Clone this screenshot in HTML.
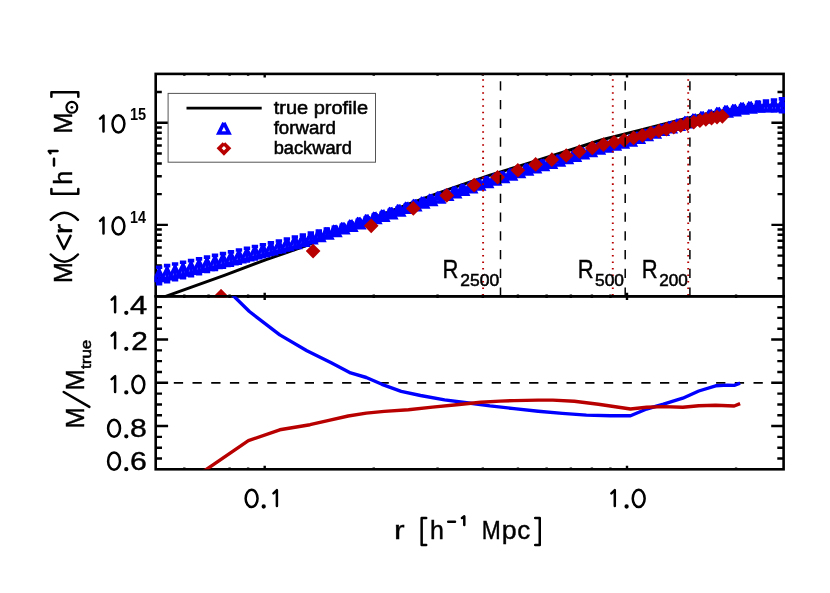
<!DOCTYPE html>
<html><head><meta charset="utf-8"><title>chart</title><style>html,body{margin:0;padding:0;background:#fff}body{width:830px;height:593px;overflow:hidden}</style></head><body>
<svg width="830" height="593" viewBox="0 0 830 593" style="display:block;will-change:transform">
<rect width="830" height="593" fill="#fff"/>
<defs><clipPath id="ct"><rect x="154.39999999999998" y="72.60000000000001" width="630.6000000000001" height="225.0"/></clipPath><clipPath id="cb"><rect x="155.7" y="296.3" width="627.9000000000001" height="173.0"/></clipPath></defs>
<path d="M264.70 73.9v3.6M627.00 73.9v3.6M184.32 73.9v1.8M208.58 73.9v1.8M229.59 73.9v1.8M248.12 73.9v1.8M373.76 73.9v1.8M437.56 73.9v1.8M482.83 73.9v1.8M517.94 73.9v1.8M546.62 73.9v1.8M570.88 73.9v1.8M591.89 73.9v1.8M610.42 73.9v1.8M736.06 73.9v1.8M264.70 296.3v-3.6M627.00 296.3v-3.6M184.32 296.3v-1.8M208.58 296.3v-1.8M229.59 296.3v-1.8M248.12 296.3v-1.8M373.76 296.3v-1.8M437.56 296.3v-1.8M482.83 296.3v-1.8M517.94 296.3v-1.8M546.62 296.3v-1.8M570.88 296.3v-1.8M591.89 296.3v-1.8M610.42 296.3v-1.8M736.06 296.3v-1.8M155.7 278.29h6.1M783.6 278.29h-6.1M155.7 265.53h6.1M783.6 265.53h-6.1M155.7 255.64h6.1M783.6 255.64h-6.1M155.7 247.55h6.1M783.6 247.55h-6.1M155.7 240.72h6.1M783.6 240.72h-6.1M155.7 234.79h6.1M783.6 234.79h-6.1M155.7 229.57h6.1M783.6 229.57h-6.1M155.7 224.90h12.2M783.6 224.90h-12.2M155.7 194.16h6.1M783.6 194.16h-6.1M155.7 176.19h6.1M783.6 176.19h-6.1M155.7 163.43h6.1M783.6 163.43h-6.1M155.7 153.54h6.1M783.6 153.54h-6.1M155.7 145.45h6.1M783.6 145.45h-6.1M155.7 138.62h6.1M783.6 138.62h-6.1M155.7 132.69h6.1M783.6 132.69h-6.1M155.7 127.47h6.1M783.6 127.47h-6.1M155.7 122.80h12.2M783.6 122.80h-12.2M155.7 92.06h6.1M783.6 92.06h-6.1" stroke="#000" stroke-width="2.4" fill="none"/>
<rect x="155.7" y="73.9" width="627.9000000000001" height="222.4" fill="none" stroke="#000" stroke-width="2.6"/>
<g clip-path="url(#ct)">
<polyline points="140.0,305.60 165.7,296.40 225.0,275.10 265.5,259.90 305.0,246.20 340.0,231.80 375.0,217.40 413.0,202.50 450.0,188.90 490.0,175.20 527.0,163.70 560.0,153.20 602.0,139.80 640.0,130.10 680.0,119.90 698.8,115.40 715.7,111.90 726.0,110.40 740.0,108.10 750.0,106.80 766.0,105.50 790.0,105.00" fill="none" stroke="#000" stroke-width="3"/>
<g fill="none" stroke="#0000ff" stroke-linejoin="miter" stroke-miterlimit="10"><path d="M159.10 267.30V283.70" stroke-width="3.4"/><path d="M155.90 267.30h6.4M155.90 283.70h6.4" stroke-width="3.6"/><path d="M159.10 270.40L154.00 280.60L164.20 280.60L159.10 270.40" stroke-width="3.5"/><path d="M167.09 265.62V281.69" stroke-width="3.4"/><path d="M163.89 265.62h6.4M163.89 281.69h6.4" stroke-width="3.6"/><path d="M167.09 268.55L161.99 278.75L172.19 278.75L167.09 268.55" stroke-width="3.5"/><path d="M175.07 263.94V279.67" stroke-width="3.4"/><path d="M171.87 263.94h6.4M171.87 279.67h6.4" stroke-width="3.6"/><path d="M175.07 266.71L169.97 276.91L180.17 276.91L175.07 266.71" stroke-width="3.5"/><path d="M183.06 262.26V277.66" stroke-width="3.4"/><path d="M179.86 262.26h6.4M179.86 277.66h6.4" stroke-width="3.6"/><path d="M183.06 264.86L177.96 275.06L188.16 275.06L183.06 264.86" stroke-width="3.5"/><path d="M191.04 260.58V275.65" stroke-width="3.4"/><path d="M187.84 260.58h6.4M187.84 275.65h6.4" stroke-width="3.6"/><path d="M191.04 263.02L185.94 273.22L196.14 273.22L191.04 263.02" stroke-width="3.5"/><path d="M199.03 258.86V273.60" stroke-width="3.4"/><path d="M195.83 258.86h6.4M195.83 273.60h6.4" stroke-width="3.6"/><path d="M199.03 261.13L193.93 271.33L204.12 271.33L199.03 261.13" stroke-width="3.5"/><path d="M207.01 257.11V271.51" stroke-width="3.4"/><path d="M203.81 257.11h6.4M203.81 271.51h6.4" stroke-width="3.6"/><path d="M207.01 259.21L201.91 269.41L212.11 269.41L207.01 259.21" stroke-width="3.5"/><path d="M215.00 255.35V269.41" stroke-width="3.4"/><path d="M211.80 255.35h6.4M211.80 269.41h6.4" stroke-width="3.6"/><path d="M215.00 257.28L209.90 267.48L220.09 267.48L215.00 257.28" stroke-width="3.5"/><path d="M222.98 253.59V267.32" stroke-width="3.4"/><path d="M219.78 253.59h6.4M219.78 267.32h6.4" stroke-width="3.6"/><path d="M222.98 255.36L217.88 265.56L228.08 265.56L222.98 255.36" stroke-width="3.5"/><path d="M230.97 251.83V265.23" stroke-width="3.4"/><path d="M227.77 251.83h6.4M227.77 265.23h6.4" stroke-width="3.6"/><path d="M230.97 253.43L225.87 263.63L236.06 263.63L230.97 253.43" stroke-width="3.5"/><path d="M238.95 250.05V263.10" stroke-width="3.4"/><path d="M235.75 250.05h6.4M235.75 263.10h6.4" stroke-width="3.6"/><path d="M238.95 251.48L233.85 261.68L244.05 261.68L238.95 251.48" stroke-width="3.5"/><path d="M246.94 248.27V260.96" stroke-width="3.4"/><path d="M243.74 248.27h6.4M243.74 260.96h6.4" stroke-width="3.6"/><path d="M246.94 249.52L241.84 259.72L252.03 259.72L246.94 249.52" stroke-width="3.5"/><path d="M254.92 246.49V258.83" stroke-width="3.4"/><path d="M251.72 246.49h6.4M251.72 258.83h6.4" stroke-width="3.6"/><path d="M254.92 247.56L249.82 257.76L260.02 257.76L254.92 247.56" stroke-width="3.5"/><path d="M262.90 244.71V256.69" stroke-width="3.4"/><path d="M259.70 244.71h6.4M259.70 256.69h6.4" stroke-width="3.6"/><path d="M262.90 245.60L257.80 255.80L268.00 255.80L262.90 245.60" stroke-width="3.5"/><path d="M270.89 242.86V254.48" stroke-width="3.4"/><path d="M267.69 242.86h6.4M267.69 254.48h6.4" stroke-width="3.6"/><path d="M270.89 243.57L265.79 253.77L275.99 253.77L270.89 243.57" stroke-width="3.5"/><path d="M278.88 240.93V252.20" stroke-width="3.4"/><path d="M275.68 240.93h6.4M275.68 252.20h6.4" stroke-width="3.6"/><path d="M278.88 241.47L273.77 251.67L283.98 251.67L278.88 241.47" stroke-width="3.5"/><path d="M286.86 239.00V249.91" stroke-width="3.4"/><path d="M283.66 239.00h6.4M283.66 249.91h6.4" stroke-width="3.6"/><path d="M286.86 239.36L281.76 249.56L291.96 249.56L286.86 239.36" stroke-width="3.5"/><path d="M294.85 237.07V247.63" stroke-width="3.4"/><path d="M291.65 237.07h6.4M291.65 247.63h6.4" stroke-width="3.6"/><path d="M294.85 237.25L289.75 247.45L299.95 247.45L294.85 237.25" stroke-width="3.5"/><path d="M302.83 235.14V245.34" stroke-width="3.4"/><path d="M299.63 235.14h6.4M299.63 245.34h6.4" stroke-width="3.6"/><path d="M302.83 235.14L297.73 245.34L307.93 245.34L302.83 235.14" stroke-width="3.5"/><path d="M310.81 233.14V242.40" stroke-width="3.4"/><path d="M307.62 233.14h6.4M307.62 242.40h6.4" stroke-width="3.6"/><path d="M310.81 232.67L305.71 242.87L315.92 242.87L310.81 232.67" stroke-width="3.5"/><path d="M318.80 231.12V239.45" stroke-width="3.4"/><path d="M315.60 231.12h6.4M315.60 239.45h6.4" stroke-width="3.6"/><path d="M318.80 230.18L313.70 240.38L323.90 240.38L318.80 230.18" stroke-width="3.5"/><path d="M326.78 229.10V236.50" stroke-width="3.4"/><path d="M323.58 229.10h6.4M323.58 236.50h6.4" stroke-width="3.6"/><path d="M326.78 227.70L321.68 237.90L331.88 237.90L326.78 227.70" stroke-width="3.5"/><path d="M334.77 227.22V233.42" stroke-width="3.4"/><path d="M331.57 227.22h6.4M331.57 233.42h6.4" stroke-width="3.6"/><path d="M334.77 225.22L329.67 235.42L339.87 235.42L334.77 225.22" stroke-width="3.5"/><path d="M342.75 225.27V230.27" stroke-width="3.4"/><path d="M339.56 225.27h6.4M339.56 230.27h6.4" stroke-width="3.6"/><path d="M342.75 222.67L337.65 232.87L347.86 232.87L342.75 222.67" stroke-width="3.5"/><path d="M350.74 222.95V227.35" stroke-width="3.4"/><path d="M347.54 222.95h6.4M347.54 227.35h6.4" stroke-width="3.6"/><path d="M350.74 220.05L345.64 230.25L355.84 230.25L350.74 220.05" stroke-width="3.5"/><path d="M358.73 220.33V224.73" stroke-width="3.4"/><path d="M355.53 220.33h6.4M355.53 224.73h6.4" stroke-width="3.6"/><path d="M358.73 217.43L353.62 227.63L363.83 227.63L358.73 217.43" stroke-width="3.5"/><path d="M366.71 217.72V222.12" stroke-width="3.4"/><path d="M363.51 217.72h6.4M363.51 222.12h6.4" stroke-width="3.6"/><path d="M366.71 214.82L361.61 225.02L371.81 225.02L366.71 214.82" stroke-width="3.5"/><path d="M374.69 215.10V219.50" stroke-width="3.4"/><path d="M371.50 215.10h6.4M371.50 219.50h6.4" stroke-width="3.6"/><path d="M374.69 212.20L369.59 222.40L379.80 222.40L374.69 212.20" stroke-width="3.5"/><path d="M382.68 212.97V217.37" stroke-width="3.4"/><path d="M379.48 212.97h6.4M379.48 217.37h6.4" stroke-width="3.6"/><path d="M382.68 210.07L377.58 220.27L387.78 220.27L382.68 210.07" stroke-width="3.5"/><path d="M390.66 210.33V214.73" stroke-width="3.4"/><path d="M387.46 210.33h6.4M387.46 214.73h6.4" stroke-width="3.6"/><path d="M390.66 207.43L385.56 217.63L395.76 217.63L390.66 207.43" stroke-width="3.5"/><path d="M398.65 207.70V212.10" stroke-width="3.4"/><path d="M395.45 207.70h6.4M395.45 212.10h6.4" stroke-width="3.6"/><path d="M398.65 204.80L393.55 215.00L403.75 215.00L398.65 204.80" stroke-width="3.5"/><path d="M406.63 205.06V209.46" stroke-width="3.4"/><path d="M403.44 205.06h6.4M403.44 209.46h6.4" stroke-width="3.6"/><path d="M406.63 202.16L401.53 212.36L411.74 212.36L406.63 202.16" stroke-width="3.5"/><path d="M414.62 202.42V206.82" stroke-width="3.4"/><path d="M411.42 202.42h6.4M411.42 206.82h6.4" stroke-width="3.6"/><path d="M414.62 199.52L409.52 209.72L419.72 209.72L414.62 199.52" stroke-width="3.5"/><path d="M422.61 199.81V204.21" stroke-width="3.4"/><path d="M419.41 199.81h6.4M419.41 204.21h6.4" stroke-width="3.6"/><path d="M422.61 196.91L417.50 207.11L427.71 207.11L422.61 196.91" stroke-width="3.5"/><path d="M430.59 197.23V201.63" stroke-width="3.4"/><path d="M427.39 197.23h6.4M427.39 201.63h6.4" stroke-width="3.6"/><path d="M430.59 194.33L425.49 204.53L435.69 204.53L430.59 194.33" stroke-width="3.5"/><path d="M438.58 194.65V199.05" stroke-width="3.4"/><path d="M435.38 194.65h6.4M435.38 199.05h6.4" stroke-width="3.6"/><path d="M438.58 191.75L433.48 201.95L443.68 201.95L438.58 191.75" stroke-width="3.5"/><path d="M446.56 192.07V196.47" stroke-width="3.4"/><path d="M443.36 192.07h6.4M443.36 196.47h6.4" stroke-width="3.6"/><path d="M446.56 189.17L441.46 199.37L451.66 199.37L446.56 189.17" stroke-width="3.5"/><path d="M454.54 189.49V193.89" stroke-width="3.4"/><path d="M451.34 189.49h6.4M451.34 193.89h6.4" stroke-width="3.6"/><path d="M454.54 186.59L449.44 196.79L459.64 196.79L454.54 186.59" stroke-width="3.5"/><path d="M462.53 186.93V191.33" stroke-width="3.4"/><path d="M459.33 186.93h6.4M459.33 191.33h6.4" stroke-width="3.6"/><path d="M462.53 184.03L457.43 194.23L467.63 194.23L462.53 184.03" stroke-width="3.5"/><path d="M470.51 184.36V188.76" stroke-width="3.4"/><path d="M467.31 184.36h6.4M467.31 188.76h6.4" stroke-width="3.6"/><path d="M470.51 181.46L465.41 191.66L475.62 191.66L470.51 181.46" stroke-width="3.5"/><path d="M478.50 181.80V186.20" stroke-width="3.4"/><path d="M475.30 181.80h6.4M475.30 186.20h6.4" stroke-width="3.6"/><path d="M478.50 178.90L473.40 189.10L483.60 189.10L478.50 178.90" stroke-width="3.5"/><path d="M486.49 179.23V183.63" stroke-width="3.4"/><path d="M483.29 179.23h6.4M483.29 183.63h6.4" stroke-width="3.6"/><path d="M486.49 176.33L481.38 186.53L491.59 186.53L486.49 176.33" stroke-width="3.5"/><path d="M494.47 176.70V181.10" stroke-width="3.4"/><path d="M491.27 176.70h6.4M491.27 181.10h6.4" stroke-width="3.6"/><path d="M494.47 173.80L489.37 184.00L499.57 184.00L494.47 173.80" stroke-width="3.5"/><path d="M502.46 174.20V178.60" stroke-width="3.4"/><path d="M499.26 174.20h6.4M499.26 178.60h6.4" stroke-width="3.6"/><path d="M502.46 171.30L497.36 181.50L507.56 181.50L502.46 171.30" stroke-width="3.5"/><path d="M510.44 171.69V176.09" stroke-width="3.4"/><path d="M507.24 171.69h6.4M507.24 176.09h6.4" stroke-width="3.6"/><path d="M510.44 168.79L505.34 178.99L515.54 178.99L510.44 168.79" stroke-width="3.5"/><path d="M518.42 169.19V173.59" stroke-width="3.4"/><path d="M515.22 169.19h6.4M515.22 173.59h6.4" stroke-width="3.6"/><path d="M518.42 166.29L513.32 176.49L523.52 176.49L518.42 166.29" stroke-width="3.5"/><path d="M526.41 166.68V171.08" stroke-width="3.4"/><path d="M523.21 166.68h6.4M523.21 171.08h6.4" stroke-width="3.6"/><path d="M526.41 163.78L521.31 173.98L531.51 173.98L526.41 163.78" stroke-width="3.5"/><path d="M534.39 164.41V168.81" stroke-width="3.4"/><path d="M531.19 164.41h6.4M531.19 168.81h6.4" stroke-width="3.6"/><path d="M534.39 161.51L529.29 171.71L539.50 171.71L534.39 161.51" stroke-width="3.5"/><path d="M542.38 162.15V166.55" stroke-width="3.4"/><path d="M539.18 162.15h6.4M539.18 166.55h6.4" stroke-width="3.6"/><path d="M542.38 159.25L537.28 169.45L547.48 169.45L542.38 159.25" stroke-width="3.5"/><path d="M550.37 159.89V164.29" stroke-width="3.4"/><path d="M547.16 159.89h6.4M547.16 164.29h6.4" stroke-width="3.6"/><path d="M550.37 156.99L545.26 167.19L555.47 167.19L550.37 156.99" stroke-width="3.5"/><path d="M558.35 157.63V162.03" stroke-width="3.4"/><path d="M555.15 157.63h6.4M555.15 162.03h6.4" stroke-width="3.6"/><path d="M558.35 154.73L553.25 164.93L563.45 164.93L558.35 154.73" stroke-width="3.5"/><path d="M566.34 155.30V159.70" stroke-width="3.4"/><path d="M563.13 155.30h6.4M563.13 159.70h6.4" stroke-width="3.6"/><path d="M566.34 152.40L561.24 162.60L571.44 162.60L566.34 152.40" stroke-width="3.5"/><path d="M574.32 152.90V157.30" stroke-width="3.4"/><path d="M571.12 152.90h6.4M571.12 157.30h6.4" stroke-width="3.6"/><path d="M574.32 150.00L569.22 160.20L579.42 160.20L574.32 150.00" stroke-width="3.5"/><path d="M582.31 150.51V154.91" stroke-width="3.4"/><path d="M579.11 150.51h6.4M579.11 154.91h6.4" stroke-width="3.6"/><path d="M582.31 147.61L577.21 157.81L587.41 157.81L582.31 147.61" stroke-width="3.5"/><path d="M590.29 148.11V152.51" stroke-width="3.4"/><path d="M587.09 148.11h6.4M587.09 152.51h6.4" stroke-width="3.6"/><path d="M590.29 145.21L585.19 155.41L595.39 155.41L590.29 145.21" stroke-width="3.5"/><path d="M598.27 145.73V150.13" stroke-width="3.4"/><path d="M595.07 145.73h6.4M595.07 150.13h6.4" stroke-width="3.6"/><path d="M598.27 142.83L593.17 153.03L603.38 153.03L598.27 142.83" stroke-width="3.5"/><path d="M606.26 143.76V148.16" stroke-width="3.4"/><path d="M603.06 143.76h6.4M603.06 148.16h6.4" stroke-width="3.6"/><path d="M606.26 140.86L601.16 151.06L611.36 151.06L606.26 140.86" stroke-width="3.5"/><path d="M614.25 141.79V146.19" stroke-width="3.4"/><path d="M611.04 141.79h6.4M611.04 146.19h6.4" stroke-width="3.6"/><path d="M614.25 138.89L609.14 149.09L619.35 149.09L614.25 138.89" stroke-width="3.5"/><path d="M622.23 139.82V144.22" stroke-width="3.4"/><path d="M619.03 139.82h6.4M619.03 144.22h6.4" stroke-width="3.6"/><path d="M622.23 136.92L617.13 147.12L627.33 147.12L622.23 136.92" stroke-width="3.5"/><path d="M630.22 137.82V142.22" stroke-width="3.4"/><path d="M627.01 137.82h6.4M627.01 142.22h6.4" stroke-width="3.6"/><path d="M630.22 134.92L625.12 145.12L635.32 145.12L630.22 134.92" stroke-width="3.5"/><path d="M638.20 134.99V139.39" stroke-width="3.4"/><path d="M635.00 134.99h6.4M635.00 139.39h6.4" stroke-width="3.6"/><path d="M638.20 132.09L633.10 142.29L643.30 142.29L638.20 132.09" stroke-width="3.5"/><path d="M646.19 132.15V136.55" stroke-width="3.4"/><path d="M642.99 132.15h6.4M642.99 136.55h6.4" stroke-width="3.6"/><path d="M646.19 129.25L641.09 139.45L651.29 139.45L646.19 129.25" stroke-width="3.5"/><path d="M654.17 129.58V133.98" stroke-width="3.4"/><path d="M650.97 129.58h6.4M650.97 133.98h6.4" stroke-width="3.6"/><path d="M654.17 126.68L649.07 136.88L659.27 136.88L654.17 126.68" stroke-width="3.5"/><path d="M662.15 127.03V131.43" stroke-width="3.4"/><path d="M658.95 127.03h6.4M658.95 131.43h6.4" stroke-width="3.6"/><path d="M662.15 124.13L657.05 134.33L667.25 134.33L662.15 124.13" stroke-width="3.5"/><path d="M670.14 124.43V128.83" stroke-width="3.4"/><path d="M666.94 124.43h6.4M666.94 128.83h6.4" stroke-width="3.6"/><path d="M670.14 121.53L665.04 131.73L675.24 131.73L670.14 121.53" stroke-width="3.5"/><path d="M678.12 121.83V126.23" stroke-width="3.4"/><path d="M674.92 121.83h6.4M674.92 126.23h6.4" stroke-width="3.6"/><path d="M678.12 118.93L673.02 129.13L683.23 129.13L678.12 118.93" stroke-width="3.5"/><path d="M686.11 119.33V123.73" stroke-width="3.4"/><path d="M682.91 119.33h6.4M682.91 123.73h6.4" stroke-width="3.6"/><path d="M686.11 116.43L681.01 126.63L691.21 126.63L686.11 116.43" stroke-width="3.5"/><path d="M694.10 116.98V121.38" stroke-width="3.4"/><path d="M690.89 116.98h6.4M690.89 121.38h6.4" stroke-width="3.6"/><path d="M694.10 114.08L689.00 124.28L699.20 124.28L694.10 114.08" stroke-width="3.5"/><path d="M702.08 114.73V119.13" stroke-width="3.4"/><path d="M698.88 114.73h6.4M698.88 119.13h6.4" stroke-width="3.6"/><path d="M702.08 111.83L696.98 122.03L707.18 122.03L702.08 111.83" stroke-width="3.5"/><path d="M710.07 112.60V117.00" stroke-width="3.4"/><path d="M706.87 112.60h6.4M706.87 117.00h6.4" stroke-width="3.6"/><path d="M710.07 109.70L704.97 119.90L715.17 119.90L710.07 109.70" stroke-width="3.5"/><path d="M718.05 110.55V114.95" stroke-width="3.4"/><path d="M714.85 110.55h6.4M714.85 114.95h6.4" stroke-width="3.6"/><path d="M718.05 107.65L712.95 117.85L723.15 117.85L718.05 107.65" stroke-width="3.5"/><path d="M726.04 108.69V113.09" stroke-width="3.4"/><path d="M722.84 108.69h6.4M722.84 113.09h6.4" stroke-width="3.6"/><path d="M726.04 105.79L720.94 115.99L731.14 115.99L726.04 105.79" stroke-width="3.5"/><path d="M734.02 107.50V111.90" stroke-width="3.4"/><path d="M730.82 107.50h6.4M730.82 111.90h6.4" stroke-width="3.6"/><path d="M734.02 104.60L728.92 114.80L739.12 114.80L734.02 104.60" stroke-width="3.5"/><path d="M742.00 105.80V110.20" stroke-width="3.4"/><path d="M738.80 105.80h6.4M738.80 110.20h6.4" stroke-width="3.6"/><path d="M742.00 102.90L736.90 113.10L747.11 113.10L742.00 102.90" stroke-width="3.5"/><path d="M749.99 104.80V109.20" stroke-width="3.4"/><path d="M746.79 104.80h6.4M746.79 109.20h6.4" stroke-width="3.6"/><path d="M749.99 101.90L744.89 112.10L755.09 112.10L749.99 101.90" stroke-width="3.5"/><path d="M757.98 102.40V109.40" stroke-width="3.4"/><path d="M754.77 102.40h6.4M754.77 109.40h6.4" stroke-width="3.6"/><path d="M757.98 100.80L752.88 111.00L763.08 111.00L757.98 100.80" stroke-width="3.5"/><path d="M765.96 101.10V110.20" stroke-width="3.4"/><path d="M762.76 101.10h6.4M762.76 110.20h6.4" stroke-width="3.6"/><path d="M765.96 100.55L760.86 110.75L771.06 110.75L765.96 100.55" stroke-width="3.5"/><path d="M773.95 100.00V110.60" stroke-width="3.4"/><path d="M770.75 100.00h6.4M770.75 110.60h6.4" stroke-width="3.6"/><path d="M773.95 100.20L768.85 110.40L779.05 110.40L773.95 100.20" stroke-width="3.5"/><path d="M781.93 98.90V111.70" stroke-width="3.4"/><path d="M778.73 98.90h6.4M778.73 111.70h6.4" stroke-width="3.6"/><path d="M781.93 100.20L776.83 110.40L787.03 110.40L781.93 100.20" stroke-width="3.5"/></g>
<g fill="#b80000" stroke="#b80000" stroke-width="3.6" stroke-linejoin="miter"><path d="M221.00 291.40L216.20 296.20L221.00 301.00L225.80 296.20Z"/><path d="M313.10 246.30L308.30 251.10L313.10 255.90L317.90 251.10Z"/><path d="M371.20 221.05L366.40 225.85L371.20 230.65L376.00 225.85Z"/><path d="M413.30 203.60L408.50 208.40L413.30 213.20L418.10 208.40Z"/><path d="M446.75 190.60L441.95 195.40L446.75 200.20L451.55 195.40Z"/><path d="M474.15 180.30L469.35 185.10L474.15 189.90L478.95 185.10Z"/><path d="M497.60 172.45L492.80 177.25L497.60 182.05L502.40 177.25Z"/><path d="M517.85 165.45L513.05 170.25L517.85 175.05L522.65 170.25Z"/><path d="M535.65 159.60L530.85 164.40L535.65 169.20L540.45 164.40Z"/><path d="M551.85 154.90L547.05 159.70L551.85 164.50L556.65 159.70Z"/><path d="M566.25 150.70L561.45 155.50L566.25 160.30L571.05 155.50Z"/><path d="M579.30 146.70L574.50 151.50L579.30 156.30L584.10 151.50Z"/><path d="M592.25 143.10L587.45 147.90L592.25 152.70L597.05 147.90Z"/><path d="M603.45 139.80L598.65 144.60L603.45 149.40L608.25 144.60Z"/><path d="M614.13 137.56L609.33 142.36L614.13 147.16L618.93 142.36Z"/><path d="M624.16 135.35L619.36 140.15L624.16 144.95L628.96 140.15Z"/><path d="M633.58 133.09L628.78 137.89L633.58 142.69L638.38 137.89Z"/><path d="M642.48 130.60L637.68 135.40L642.48 140.20L647.28 135.40Z"/><path d="M650.90 128.31L646.10 133.11L650.90 137.91L655.70 133.11Z"/><path d="M658.90 126.19L654.10 130.99L658.90 135.79L663.70 130.99Z"/><path d="M666.52 124.23L661.72 129.03L666.52 133.83L671.32 129.03Z"/><path d="M673.78 122.44L668.98 127.24L673.78 132.04L678.58 127.24Z"/><path d="M680.73 120.74L675.93 125.54L680.73 130.34L685.53 125.54Z"/><path d="M687.38 119.06L682.58 123.86L687.38 128.66L692.18 123.86Z"/><path d="M693.77 117.38L688.97 122.18L693.77 126.98L698.57 122.18Z"/><path d="M699.92 115.83L695.12 120.63L699.92 125.43L704.72 120.63Z"/><path d="M705.83 114.57L701.03 119.37L705.83 124.17L710.63 119.37Z"/><path d="M711.53 113.36L706.73 118.16L711.53 122.96L716.33 118.16Z"/><path d="M717.03 112.29L712.23 117.09L717.03 121.89L721.83 117.09Z"/><path d="M722.35 111.56L717.55 116.36L722.35 121.16L727.15 116.36Z"/></g>
</g>
<line x1="483.1" y1="295.6" x2="483.1" y2="73.9" stroke="#b80000" stroke-width="1.9" stroke-dasharray="1.6 4.91"/>
<line x1="612.8" y1="295.6" x2="612.8" y2="73.9" stroke="#b80000" stroke-width="1.9" stroke-dasharray="1.6 4.91"/>
<line x1="688.2" y1="295.6" x2="688.2" y2="73.9" stroke="#b80000" stroke-width="1.9" stroke-dasharray="1.6 4.91"/>
<line x1="500.5" y1="296.8" x2="500.5" y2="73.9" stroke="#000" stroke-width="1.5" stroke-dasharray="9.2 9.55"/>
<line x1="625.2" y1="296.8" x2="625.2" y2="73.9" stroke="#000" stroke-width="1.5" stroke-dasharray="9.2 9.55"/>
<line x1="689.9" y1="296.8" x2="689.9" y2="73.9" stroke="#000" stroke-width="1.5" stroke-dasharray="9.2 9.55"/>
<path d="M264.70 296.3v3.6M627.00 296.3v3.6M184.32 296.3v1.8M208.58 296.3v1.8M229.59 296.3v1.8M248.12 296.3v1.8M373.76 296.3v1.8M437.56 296.3v1.8M482.83 296.3v1.8M517.94 296.3v1.8M546.62 296.3v1.8M570.88 296.3v1.8M591.89 296.3v1.8M610.42 296.3v1.8M736.06 296.3v1.8M264.70 469.3v-3.6M627.00 469.3v-3.6M184.32 469.3v-1.8M208.58 469.3v-1.8M229.59 469.3v-1.8M248.12 469.3v-1.8M373.76 469.3v-1.8M437.56 469.3v-1.8M482.83 469.3v-1.8M517.94 469.3v-1.8M546.62 469.3v-1.8M570.88 469.3v-1.8M591.89 469.3v-1.8M610.42 469.3v-1.8M736.06 469.3v-1.8M155.7 458.49h6.3M783.6 458.49h-6.3M155.7 447.68h6.3M783.6 447.68h-6.3M155.7 436.86h6.3M783.6 436.86h-6.3M155.7 426.05h12.4M783.6 426.05h-12.4M155.7 415.24h6.3M783.6 415.24h-6.3M155.7 404.43h6.3M783.6 404.43h-6.3M155.7 393.61h6.3M783.6 393.61h-6.3M155.7 382.80h12.4M783.6 382.80h-12.4M155.7 371.99h6.3M783.6 371.99h-6.3M155.7 361.17h6.3M783.6 361.17h-6.3M155.7 350.36h6.3M783.6 350.36h-6.3M155.7 339.55h12.4M783.6 339.55h-12.4M155.7 328.74h6.3M783.6 328.74h-6.3M155.7 317.92h6.3M783.6 317.92h-6.3M155.7 307.11h6.3M783.6 307.11h-6.3" stroke="#000" stroke-width="2.4" fill="none"/>
<rect x="155.7" y="296.3" width="627.9000000000001" height="173.0" fill="none" stroke="#000" stroke-width="2.6"/>
<g clip-path="url(#cb)">
<line x1="155.1" y1="382.80" x2="783.6" y2="382.80" stroke="#000" stroke-width="1.7" stroke-dasharray="9.3 9.4"/>
<polyline points="229.5,292.00 233.4,295.80 249.4,311.50 279.8,334.90 306.9,350.70 331.2,362.80 350.6,372.90 366.3,377.50 381.9,384.30 401.2,391.40 420.5,395.50 444.6,399.90 468.7,403.00 490.0,405.90 514.1,408.60 538.2,411.20 562.3,413.40 586.4,415.10 610.5,415.80 630.5,415.80 646.6,409.00 663.5,404.20 682.8,398.20 698.8,391.00 715.7,385.80 727.5,385.10 734.2,385.40 740.1,383.20" fill="none" stroke="#0000ff" stroke-width="3.4" stroke-linejoin="round"/>
<polyline points="203.0,471.70 207.1,468.90 248.4,440.70 279.8,429.80 310.0,424.70 328.9,420.40 348.2,416.00 366.3,413.10 384.3,411.40 408.4,409.80 432.5,407.10 456.6,404.70 480.7,402.30 500.0,401.10 514.1,400.60 538.2,400.10 552.7,400.10 574.3,401.30 598.4,404.20 630.5,409.00 646.6,407.30 663.5,406.60 682.8,407.30 698.8,405.70 715.7,405.30 734.2,406.00 740.1,403.60" fill="none" stroke="#b80000" stroke-width="3.4" stroke-linejoin="round"/>
</g>
<rect x="168.1" y="93.4" width="207.4" height="68.8" fill="#fff" stroke="#555" stroke-width="1"/>
<line x1="186.5" y1="108.1" x2="261.7" y2="108.1" stroke="#000" stroke-width="2.9"/>
<path d="M223.90 122.90L218.80 133.10L229.00 133.10L223.90 122.90" fill="none" stroke="#0000ff" stroke-width="3.5" stroke-miterlimit="10"/>
<path d="M223.95 143.50L219.15 148.30L223.95 153.10L228.75 148.30L223.95 143.50" fill="none" stroke="#b80000" stroke-width="3.6" stroke-miterlimit="10"/>
<g font-family="Liberation Sans, sans-serif" fill="#000">
<text x="273.7" y="113.9" font-size="18" textLength="94.4" lengthAdjust="spacingAndGlyphs" stroke="#000" stroke-width="0.55" text-anchor="start" >true profile</text>
<text x="273.7" y="133.6" font-size="18" textLength="62.2" lengthAdjust="spacingAndGlyphs" stroke="#000" stroke-width="0.55" text-anchor="start" >forward</text>
<text x="273.7" y="153.5" font-size="18" textLength="78.1" lengthAdjust="spacingAndGlyphs" stroke="#000" stroke-width="0.55" text-anchor="start" >backward</text>
<text x="130.0" y="120.39999999999999" font-size="16.5" textLength="16.2" lengthAdjust="spacingAndGlyphs" font-weight="bold" text-anchor="start" >15</text>
<text x="130.0" y="222.5" font-size="16.5" textLength="15.9" lengthAdjust="spacingAndGlyphs" font-weight="bold" text-anchor="start" >14</text>
<text x="130.0" y="313.6" font-size="25" textLength="17.2" lengthAdjust="spacingAndGlyphs" stroke="#000" stroke-width="0.4" text-anchor="start" >4</text>
<text x="131.2" y="349.6" font-size="25" textLength="16.6" lengthAdjust="spacingAndGlyphs" stroke="#000" stroke-width="0.4" text-anchor="start" >2</text>
<text x="129.9" y="437.1" font-size="25" textLength="16.8" lengthAdjust="spacingAndGlyphs" stroke="#000" stroke-width="0.4" text-anchor="start" >8</text>
<text x="129.9" y="470.0" font-size="25" textLength="16.8" lengthAdjust="spacingAndGlyphs" stroke="#000" stroke-width="0.4" text-anchor="start" >6</text>
<g fill="none" stroke="#000" stroke-width="2.5" stroke-linecap="round" stroke-linejoin="round"><path d="M100.10 118.70L103.50 115.60V131.45M100.10 220.80L103.50 217.70V233.55M111.70 299.60L115.10 296.50V312.35M111.70 335.60L115.10 332.50V348.35M111.70 379.20L115.10 376.10V391.95M273.50 493.30L276.90 490.20V506.05M611.40 493.30L614.80 490.20V506.05"/><ellipse cx="118.45" cy="123.85" rx="5.95" ry="8.6"/><ellipse cx="118.45" cy="225.95" rx="5.95" ry="8.6"/><circle cx="126.30" cy="312.80" r="0.9" fill="#000"/><circle cx="126.30" cy="348.80" r="0.9" fill="#000"/><circle cx="126.30" cy="392.40" r="0.9" fill="#000"/><ellipse cx="138.35" cy="384.35" rx="5.95" ry="8.6"/><ellipse cx="114.05" cy="428.25" rx="5.95" ry="8.6"/><circle cx="126.30" cy="436.30" r="0.9" fill="#000"/><ellipse cx="114.05" cy="461.15" rx="5.95" ry="8.6"/><circle cx="126.30" cy="469.20" r="0.9" fill="#000"/><ellipse cx="251.60" cy="498.45" rx="5.95" ry="8.6"/><circle cx="263.70" cy="506.50" r="0.9" fill="#000"/><circle cx="626.60" cy="506.50" r="0.9" fill="#000"/><ellipse cx="638.70" cy="498.45" rx="5.95" ry="8.6"/></g>
<text x="442.45" y="278.4" font-size="25" textLength="15.9" lengthAdjust="spacingAndGlyphs" stroke="#000" stroke-width="0.4" text-anchor="start" >R</text>
<text x="460.3" y="285.6" font-size="17" textLength="38.8" lengthAdjust="spacingAndGlyphs" stroke="#000" stroke-width="0.55" text-anchor="start" >2500</text>
<text x="577.65" y="278.4" font-size="25" textLength="15.9" lengthAdjust="spacingAndGlyphs" stroke="#000" stroke-width="0.4" text-anchor="start" >R</text>
<text x="595.1" y="285.6" font-size="17" textLength="28.9" lengthAdjust="spacingAndGlyphs" stroke="#000" stroke-width="0.55" text-anchor="start" >500</text>
<text x="641.85" y="278.4" font-size="25" textLength="15.9" lengthAdjust="spacingAndGlyphs" stroke="#000" stroke-width="0.4" text-anchor="start" >R</text>
<text x="659.3" y="285.6" font-size="17" textLength="28.5" lengthAdjust="spacingAndGlyphs" stroke="#000" stroke-width="0.55" text-anchor="start" >200</text>
<g transform="translate(0 538.6)"><path d="M426.20 -20.6H421.65V6.3H426.20M448.20 -16.9H455.00M462.00 -20.65L464.30 -22.25V-13.55M535.20 -20.6H539.75V6.3H535.20" fill="none" stroke="#000" stroke-width="2.5" stroke-linecap="round" stroke-linejoin="round"/><text x="394.10" y="0" font-size="25" textLength="10.6" lengthAdjust="spacingAndGlyphs" stroke="#000" stroke-width="0.4">r</text><text x="429.95" y="0" font-size="25" stroke="#000" stroke-width="0.4">h</text><text x="481.85" y="0" font-size="25" textLength="19.0" lengthAdjust="spacingAndGlyphs" stroke="#000" stroke-width="0.4">M</text><text x="501.65" y="0" font-size="25" textLength="14.9" lengthAdjust="spacingAndGlyphs" stroke="#000" stroke-width="0.4">p</text><text x="517.20" y="0" font-size="25" textLength="13.0" lengthAdjust="spacingAndGlyphs" stroke="#000" stroke-width="0.4">c</text></g>
<g transform="translate(72 281.2) rotate(-90)"><path d="M26.70 -21.2C17.17 -12.2 17.17 -3.1 26.70 5.9M45.30 -14.6L32.20 -8.05L45.30 -1.5M61.35 -21.2C70.93 -12.2 70.93 -3.1 61.35 5.9M92.10 -20.6H87.55V6.3H92.10M115.60 -18H122.40M127.90 -21.60L130.20 -23.20V-14.50M184.40 -20.6H188.95V6.3H184.40" fill="none" stroke="#000" stroke-width="2.5" stroke-linecap="round" stroke-linejoin="round"/><text x="-1.80" y="0" font-size="25" stroke="#000" stroke-width="0.4">M</text><text x="47.00" y="0" font-size="25" textLength="10.6" lengthAdjust="spacingAndGlyphs" stroke="#000" stroke-width="0.4">r</text><text x="96.50" y="0" font-size="25" stroke="#000" stroke-width="0.4">h</text><text x="147.80" y="0" font-size="25" stroke="#000" stroke-width="0.4">M</text><circle cx="173.85" cy="-0.15" r="5.4" fill="none" stroke="#000" stroke-width="2.2"/><circle cx="173.85" cy="-0.15" r="1.4" fill="#000"/></g>
<g transform="translate(83.6 426.5) rotate(-90)"><path d="M19.60 5.8L34.50 -19.9" fill="none" stroke="#000" stroke-width="2.5" stroke-linecap="round" stroke-linejoin="round"/><text x="-1.80" y="0" font-size="25" stroke="#000" stroke-width="0.4">M</text><text x="36.30" y="0" font-size="25" stroke="#000" stroke-width="0.4">M</text><text x="57.50" y="7.4" font-size="15.5" textLength="29.3" lengthAdjust="spacingAndGlyphs" stroke="#000" stroke-width="0.55">true</text></g>
</g>
</svg>
</body></html>
